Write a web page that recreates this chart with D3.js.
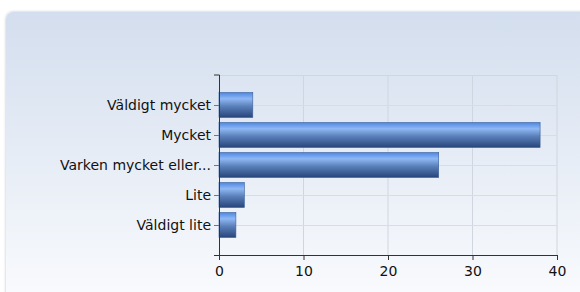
<!DOCTYPE html>
<html>
<head>
<meta charset="utf-8">
<script src="https://cdn.jsdelivr.net/npm/d3@7"></script>
<style>
  body { margin: 0; background: #fff; }
  text { font-family: "DejaVu Sans", Verdana, sans-serif; font-size: 14px; fill: #111; }
</style>
</head>
<body>
<div id="chart"></div>
<script>
var width = 580;
var height = 292;

var categories = ["Väldigt mycket", "Mycket", "Varken mycket eller...", "Lite", "Väldigt lite"];
var values = [4, 38, 26, 3, 2];
var xTicks = [0, 10, 20, 30, 40];

var svg = d3.select("#chart").append("svg")
    .attr("width", width)
    .attr("height", height);

var defs = svg.append("defs");

// panel background
var bg = defs.append("linearGradient")
    .attr("id", "bg")
    .attr("x1", "0%").attr("y1", "0%")
    .attr("x2", "0%").attr("y2", "100%");
bg.append("stop").attr("offset", "0%").attr("stop-color", "#d3deee");
bg.append("stop").attr("offset", "100%").attr("stop-color", "#fbfcfe");

// bar gradient
var bar = defs.append("linearGradient")
    .attr("id", "bar")
    .attr("x1", "0%").attr("y1", "0%")
    .attr("x2", "0%").attr("y2", "100%");
bar.append("stop").attr("offset", "0%").attr("stop-color", "#4c86e4");
bar.append("stop").attr("offset", "25%").attr("stop-color", "#8fb8f4");
bar.append("stop").attr("offset", "55%").attr("stop-color", "#5b80ba");
bar.append("stop").attr("offset", "100%").attr("stop-color", "#26457a");

var shadow = defs.append("filter").attr("id", "shadow")
    .attr("x", "-5%").attr("y", "-5%").attr("width", "110%").attr("height", "110%");
shadow.append("feGaussianBlur").attr("in", "SourceAlpha").attr("stdDeviation", 1.5);
shadow.append("feComponentTransfer").append("feFuncA").attr("type", "linear").attr("slope", 0.25);
var merge = shadow.append("feMerge");
merge.append("feMergeNode");
merge.append("feMergeNode").attr("in", "SourceGraphic");

svg.append("rect")
    .attr("x", 6)
    .attr("y", 12)
    .attr("width", 600)
    .attr("height", 300)
    .attr("rx", 7)
    .attr("fill", "url(#bg)")
    .attr("filter", "url(#shadow)");

var margin = { left: 219, top: 75, right: 557, bottom: 255 };

var x = d3.scaleLinear()
    .domain([0, 40])
    .range([margin.left, margin.right]);

var y = d3.scalePoint()
    .domain(categories)
    .range([margin.top, margin.bottom])
    .padding(1);

var barH = 25;

// grid
var grid = svg.append("g");
grid.selectAll(".vg")
    .data(xTicks.slice(1))
    .enter().append("line")
    .attr("x1", function (d) { return x(d); })
    .attr("x2", function (d) { return x(d); })
    .attr("y1", margin.top)
    .attr("y2", margin.bottom)
    .attr("stroke", "#d0d6df")
    .attr("stroke-width", 1);

grid.selectAll(".hg")
    .data(categories)
    .enter().append("line")
    .attr("x1", margin.left)
    .attr("x2", margin.right)
    .attr("y1", function (d) { return y(d) + 0.5; })
    .attr("y2", function (d) { return y(d) + 0.5; })
    .attr("stroke", "#d8dde5")
    .attr("stroke-width", 1);

grid.append("line")
    .attr("x1", margin.left).attr("x2", margin.right)
    .attr("y1", margin.top + 0.5).attr("y2", margin.top + 0.5)
    .attr("stroke", "#d0d6df");

// bars
svg.selectAll(".bar")
    .data(values)
    .enter().append("rect")
    .attr("class", "bar")
    .attr("x", x(0))
    .attr("y", function (d, i) { return y(categories[i]) - barH / 2; })
    .attr("width", function (d) { return x(d) - x(0); })
    .attr("height", barH)
    .attr("fill", "url(#bar)")
    .attr("stroke", "#3a5f9a")
    .attr("stroke-width", 0.6);

// axes
var xAxis = d3.axisBottom(x).tickValues(xTicks).tickSize(5).tickPadding(6);
var gx = svg.append("g")
    .attr("transform", "translate(0," + margin.bottom + ")")
    .call(xAxis);
gx.select(".domain").attr("d", "M" + (margin.left - 5) + ",0.5H" + margin.right).attr("stroke", "#333");
gx.selectAll(".tick line").attr("stroke", "#333");

var yAxis = d3.axisLeft(y).tickSize(5).tickPadding(3);
var gy = svg.append("g")
    .attr("transform", "translate(" + margin.left + ",0)")
    .call(yAxis);
gy.select(".domain").attr("d", "M-5," + margin.top + "H0.5V" + margin.bottom).attr("stroke", "#333");
gy.selectAll(".tick line").attr("stroke", "#777");

svg.selectAll(".domain").attr("fill", "none");
</script>
</body>
</html>
